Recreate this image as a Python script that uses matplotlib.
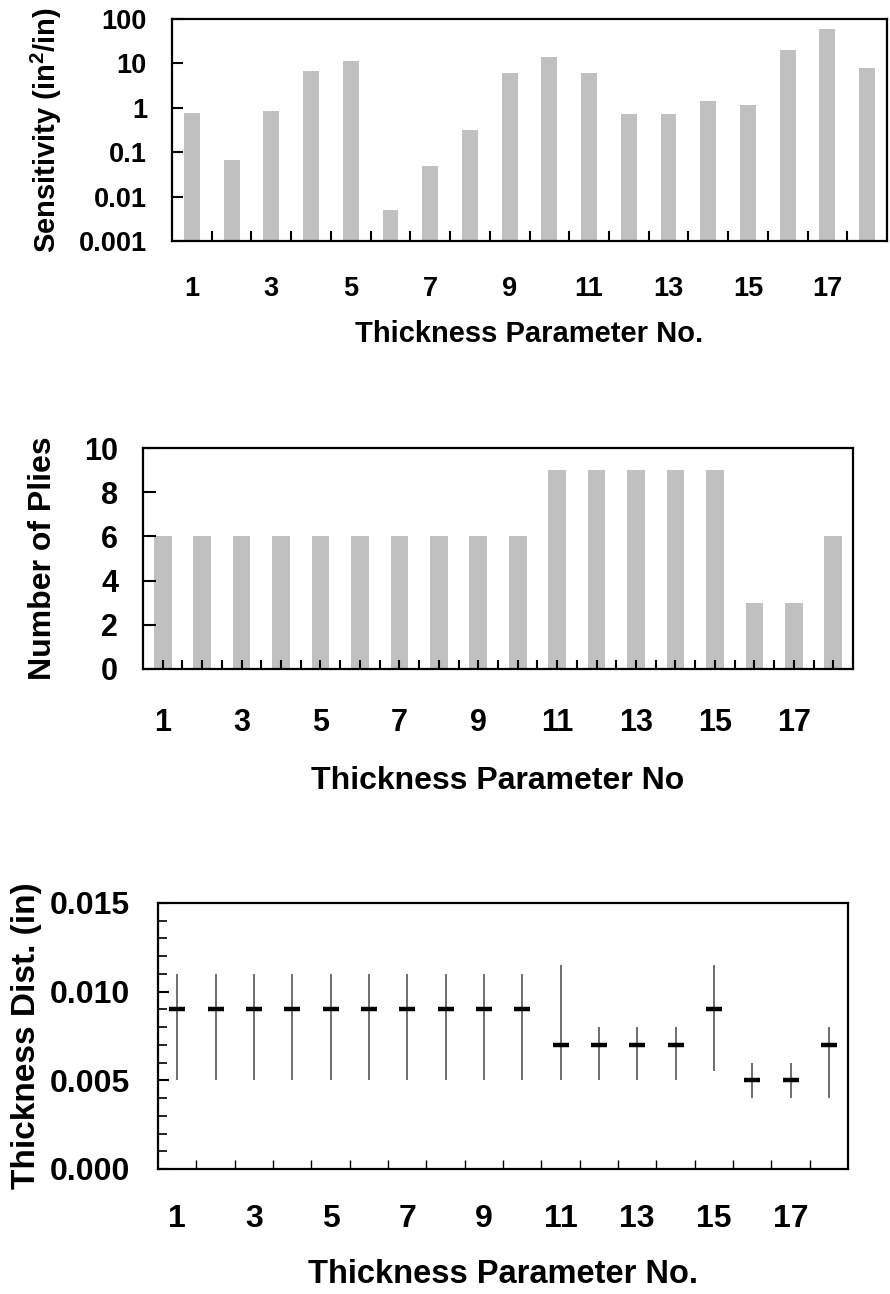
import matplotlib
matplotlib.use("Agg")
import matplotlib.pyplot as plt
import numpy as np
from matplotlib.ticker import FixedLocator, MultipleLocator, FixedFormatter

plt.rcParams["font.family"] = ["Liberation Sans", "DejaVu Sans"]
plt.rcParams["font.weight"] = "bold"
plt.rcParams["mathtext.fontset"] = "custom"
plt.rcParams["mathtext.rm"] = "Liberation Sans:bold"
plt.rcParams["mathtext.it"] = "Liberation Sans:bold"
plt.rcParams["mathtext.bf"] = "Liberation Sans:bold"
plt.rcParams["xtick.direction"] = "in"
plt.rcParams["ytick.direction"] = "in"

# data
params = np.arange(1, 19)
sensitivity = [0.76, 0.066, 0.85, 6.7, 11.3, 0.005, 0.049, 0.32, 6.1,
               13.9, 6.1, 0.72, 0.72, 1.4, 1.15, 20, 60, 7.9]
plies = [6, 6, 6, 6, 6, 6, 6, 6, 6, 6, 9, 9, 9, 9, 9, 3, 3, 6]
thick_mid = [0.009] * 10 + [0.007, 0.007, 0.007, 0.007, 0.009, 0.005, 0.005, 0.007]
thick_lo = [0.005] * 10 + [0.005, 0.005, 0.005, 0.005, 0.0055, 0.004, 0.004, 0.004]
thick_hi = [0.011] * 10 + [0.0115, 0.008, 0.008, 0.008, 0.0115, 0.006, 0.006, 0.008]
odd_labels = [str(i) for i in range(1, 19, 2)]

BAR = "#c0c0c0"
W, H = 890, 1294


def place(left, top, right, bottom):
    return [left / W, 1 - bottom / H, (right - left) / W, (bottom - top) / H]


def style_axis(ax, fs, ypad):
    for sp in ax.spines.values():
        sp.set_linewidth(1.6)
    ax.set_xlim(0.5, 18.5)
    ax.xaxis.set_major_locator(FixedLocator(range(1, 19, 2)))
    ax.xaxis.set_major_formatter(FixedFormatter(odd_labels))
    ax.tick_params(axis="both", which="both", labelsize=fs, direction="in")
    ax.tick_params(axis="y", which="major", length=8, width=1.5, pad=ypad)


fig = plt.figure(figsize=(W / 100, H / 100), dpi=100)

# --- sensitivity ---
ax1 = fig.add_axes(place(172, 19, 887, 241))
ax1.set_yscale("log")
ax1.bar(params, sensitivity, width=0.4, color=BAR)
ax1.set_ylim(0.001, 100)
ax1.set_yticks([0.001, 0.01, 0.1, 1, 10, 100])
ax1.set_yticklabels(["0.001", "0.01", "0.1", "1", "10", "100"])
ax1.yaxis.set_minor_locator(FixedLocator([]))
style_axis(ax1, 19.5, 18)
ax1.xaxis.set_minor_locator(FixedLocator(np.arange(1.5, 18, 1)))
ax1.tick_params(axis="x", which="major", length=0, pad=25)
ax1.tick_params(axis="x", which="minor", length=7, width=1.5)
ax1.set_ylabel(r"Sensitivity (in$^2$/in)", fontsize=21, fontweight="bold", va="center")
ax1.yaxis.set_label_coords(-0.176, 0.5)
ax1.set_xlabel("Thickness Parameter No.", fontsize=21, fontweight="bold", va="center")
ax1.xaxis.set_label_coords(0.5, -0.419)

# --- number of plies ---
ax2 = fig.add_axes(place(143, 448, 853, 669))
ax2.bar(params, plies, width=0.45, color=BAR)
ax2.set_ylim(0, 10)
ax2.yaxis.set_major_locator(MultipleLocator(2))
style_axis(ax2, 22, 18)
ax2.xaxis.set_minor_locator(FixedLocator(np.arange(1.5, 18.6, 1)))
ax2.xaxis.set_major_locator(FixedLocator(range(1, 19)))
ax2.xaxis.set_major_formatter(FixedFormatter(
    [str(i) if i % 2 else "" for i in range(1, 19)]))
ax2.tick_params(axis="x", which="both", length=6.5, width=1.5, pad=28)
ax2.tick_params(axis="y", which="major", length=9)
ax2.set_ylabel("Number of Plies", fontsize=23, fontweight="bold", va="center")
ax2.yaxis.set_label_coords(-0.141, 0.5)
ax2.set_xlabel("Thickness Parameter No", fontsize=23, fontweight="bold", va="center")
ax2.xaxis.set_label_coords(0.5, -0.505)

# --- thickness distribution ---
ax3 = fig.add_axes(place(158, 903, 848, 1169))
ax3.vlines(params, thick_lo, thick_hi, color="#555555", linewidth=1.2)
ax3.plot(params, thick_mid, linestyle="none", marker="_", markersize=12,
         markeredgewidth=3.2, color="black")
ax3.set_ylim(0, 0.015)
ax3.yaxis.set_major_locator(MultipleLocator(0.005))
ax3.yaxis.set_minor_locator(MultipleLocator(0.001))
ax3.yaxis.set_major_formatter(lambda v, p: f"{v:.3f}")
style_axis(ax3, 23, 20)
ax3.xaxis.set_minor_locator(FixedLocator(np.arange(1.5, 18, 1)))
ax3.tick_params(axis="x", which="major", length=0, pad=25)
ax3.tick_params(axis="x", which="minor", length=6.5, width=1.0)
ax3.tick_params(axis="y", which="minor", length=6.5, width=1.2)
ax3.set_ylabel("Thickness Dist. (in)", fontsize=24, fontweight="bold", va="center")
ax3.yaxis.set_label_coords(-0.191, 0.5)
ax3.set_xlabel("Thickness Parameter No.", fontsize=23.5, fontweight="bold", va="center")
ax3.xaxis.set_label_coords(0.5, -0.395)

fig.savefig("out.png", dpi=100)
